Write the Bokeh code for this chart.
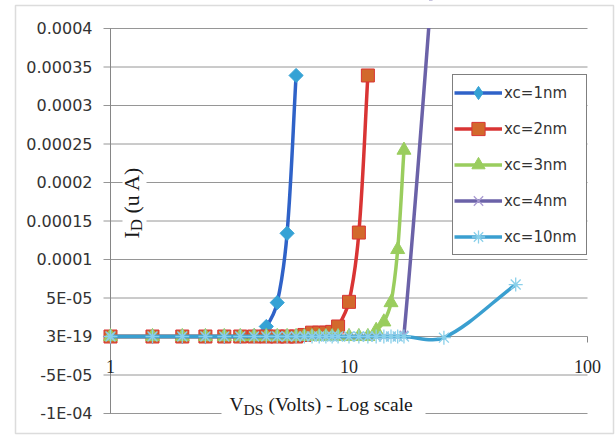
import math
from bokeh.plotting import figure
from bokeh.models import (Range1d, FixedTicker, CustomJSTickFormatter, Legend,
                          LegendItem, Label, BoxAnnotation, CDSView, IndexFilter,
                          ColumnDataSource)
from bokeh.embed import file_html
from bokeh.resources import INLINE

# ---------------- data ----------------
series_names = ["xc=1nm", "xc=2nm", "xc=3nm", "xc=4nm", "xc=10nm"]

vds_1nm = [1, 1.5, 2, 2.5, 3, 3.5, 4, 4.5, 5, 5.5, 6]
id_1nm = [0, 0, 0, 0, 0, 0, 1e-6, 1.3e-5, 4.4e-5, 1.34e-4, 3.39e-4]

vds_2nm = [1, 1.5, 2, 2.5, 3, 3.5, 4, 4.5, 5, 5.5, 6, 6.5, 7, 7.5, 8, 8.5,
           9, 10, 11, 12]
id_2nm = [0, 0, 0, 0, 0, 0, 0, 0, 0, 0, 0, 2e-6, 5e-6, 5e-6, 5e-6, 6e-6,
          1.3e-5, 4.5e-5, 1.35e-4, 3.39e-4]

vds_3nm = [1, 1.5, 2, 2.5, 3, 3.5, 4, 4.5, 5, 5.5, 6, 6.5, 7, 7.5, 8, 8.5,
           9, 10, 11, 12, 13, 14, 15, 16, 17]
id_3nm = [0, 0, 0, 0, 0, 0, 0, 0, 0, 0, 0, 0, 0, 0, 0, 0,
          0, 0, 0, 0, 8e-6, 1.9e-5, 4.4e-5, 1.13e-4, 2.42e-4]

vds_4nm = [1, 1.5, 2, 2.5, 3, 3.5, 4, 4.5, 5, 5.5, 6, 6.5, 7, 7.5, 8, 8.5,
           9, 10, 11, 12, 13, 14, 15, 16, 17, 25]
id_4nm = [0, 0, 0, 0, 0, 0, 0, 0, 0, 0, 0, 0, 0, 0, 0, 0,
          0, 0, 0, 0, 0, 0, 0, 0, 2e-6, 6.6e-4]

vds_10nm = [1, 1.5, 2, 2.5, 3, 3.5, 4, 4.5, 5, 5.5, 6, 6.5, 7, 7.5, 8, 8.5,
            9, 10, 11, 12, 13, 14, 15, 16, 17, 25, 50]
id_10nm = [0, 0, 0, 0, 0, 0, 0, 0, 0, 0, 0, 0, 0, 0, 0, 0,
           0, 0, 0, 0, 0, 0, 0, 0, 0, -1.5e-6, 6.75e-5]

y_ticks = [-1e-4, -5e-5, 0.0, 5e-5, 1e-4, 1.5e-4, 2e-4, 2.5e-4, 3e-4, 3.5e-4, 4e-4]
y_tick_labels = ["-1E-04", "-5E-05", "3E-19", "5E-05", "0.0001", "0.00015",
                 "0.0002", "0.00025", "0.0003", "0.00035", "0.0004"]
x_ticks = [1, 10, 100]
x_tick_labels = ["1", "10", "100"]

# ---------------- geometry (canvas pixels) ----------------
W, H = 616, 438
X1_PX, X100_PX = 110, 587          # where V=1 and V=100 sit
GRID_L = 103                       # grid lines start a little left of the axis (tick marks)
Y_TOP_PX, Y_BOT_PX = 28, 413       # where 4e-4 and -1e-4 sit
DEC_PX = (X100_PX - X1_PX) / 2.0
PX_PER_A = (Y_BOT_PX - Y_TOP_PX) / (4e-4 - (-1e-4))


def data_x(px):
    return 10 ** ((px - X1_PX) / DEC_PX)


def data_y(py):
    return 4e-4 - (py - Y_TOP_PX) / PX_PER_A


# the frame covers the whole canvas, so nothing gets clipped
p = figure(width=W, height=H, x_axis_type="log",
           x_range=Range1d(data_x(0), data_x(W)),
           y_range=Range1d(data_y(H), data_y(0)),
           output_backend="svg", toolbar_location=None,
           min_border_left=0, min_border_right=0,
           min_border_top=0, min_border_bottom=0)
p.title.visible = False
p.outline_line_color = None
p.background_fill_color = "white"
p.border_fill_color = "white"

fmt_code = """
let best = 0;
for (let k = 1; k < tv.length; k++) {
  if (Math.abs(tv[k] - tick) < Math.abs(tv[best] - tick)) best = k;
}
return tl[best];
"""

# y axis labels
yax = p.yaxis[0]
yax.fixed_location = data_x(GRID_L)
yax.ticker = FixedTicker(ticks=y_ticks)
yax.formatter = CustomJSTickFormatter(args=dict(tv=y_ticks, tl=y_tick_labels), code=fmt_code)
yax.axis_line_color = None
yax.major_tick_line_color = None
yax.minor_tick_line_color = None
yax.major_tick_out = 0
yax.major_tick_in = 0
yax.major_label_standoff = 11
yax.major_label_text_font = "DejaVu Sans"
yax.major_label_text_font_size = "16px"
yax.major_label_text_color = "#333333"

# x axis labels at I = 0
xax = p.xaxis[0]
xax.fixed_location = 0
xax.ticker = FixedTicker(ticks=x_ticks)
xax.formatter = CustomJSTickFormatter(args=dict(tv=x_ticks, tl=x_tick_labels), code=fmt_code)
xax.axis_line_color = None
xax.major_tick_line_color = None
xax.minor_tick_line_color = None
xax.major_tick_out = 5
xax.major_tick_in = 0
xax.major_label_standoff = 18
xax.major_label_text_font = "Liberation Serif"
xax.major_label_text_font_size = "18px"
xax.major_label_text_color = "#262626"
xax.level = "overlay"

p.xgrid.visible = False
p.ygrid.visible = False

# horizontal grid lines (one per y tick), from just left of the axis to V = 100
p.segment(x0=[data_x(GRID_L)] * len(y_ticks), x1=[x_ticks[-1]] * len(y_ticks),
          y0=y_ticks, y1=y_ticks, line_color="#969696", line_width=1, level="underlay")
# vertical axis line at V = 1
p.segment(x0=[x_ticks[0]], x1=[x_ticks[0]], y0=[y_ticks[0]], y1=[y_ticks[-1]],
          line_color="#868686", line_width=1, level="underlay")
# small tick below the horizontal axis at V = 100
p.segment(x0=[x_ticks[-1]], x1=[x_ticks[-1]], y0=[0.0], y1=[-6 / PX_PER_A],
          line_color="#868686", line_width=1, level="underlay")


def smooth_segments(xs, ys):
    """Excel-like smoothed line: cubic Bezier control points from neighbours."""
    px = [math.log10(v) * DEC_PX for v in xs]
    py = [v * PX_PER_A for v in ys]
    n = len(xs)
    seg = dict(x0=[], y0=[], x1=[], y1=[], cx0=[], cy0=[], cx1=[], cy1=[])
    for i in range(n - 1):
        i0 = max(i - 1, 0)
        i3 = min(i + 2, n - 1)
        d01 = math.hypot(px[i] - px[i0], py[i] - py[i0])
        d12 = math.hypot(px[i + 1] - px[i], py[i + 1] - py[i])
        d23 = math.hypot(px[i3] - px[i + 1], py[i3] - py[i + 1])
        if d12 == 0:
            continue
        t1x = (px[i + 1] - px[i0]) / (d01 + d12)
        t1y = (py[i + 1] - py[i0]) / (d01 + d12)
        t2x = (px[i3] - px[i]) / (d12 + d23)
        t2y = (py[i3] - py[i]) / (d12 + d23)
        c1x = px[i] + t1x * d12 / 3
        c1y = py[i] + t1y * d12 / 3
        c2x = px[i + 1] - t2x * d12 / 3
        c2y = py[i + 1] - t2y * d12 / 3
        seg["x0"].append(xs[i]); seg["y0"].append(ys[i])
        seg["x1"].append(xs[i + 1]); seg["y1"].append(ys[i + 1])
        seg["cx0"].append(10 ** (c1x / DEC_PX)); seg["cy0"].append(c1y / PX_PER_A)
        seg["cx1"].append(10 ** (c2x / DEC_PX)); seg["cy1"].append(c2y / PX_PER_A)
    return seg


styles = [
    dict(line="#2F62C8", marker="square", angle=math.pi / 4, size=10, leg_marker="diamond",
         fill="#35A2D5", mline="#35A2D5", mwidth=1),
    dict(line="#D93434", marker="square", angle=0, size=13, leg_marker="square",
         fill="#D2692C", mline="#D93434", mwidth=1),
    dict(line="#9ACD5E", marker="triangle", angle=0, size=14, leg_marker="triangle",
         fill="#9ACD5E", mline="#9ACD5E", mwidth=1),
    dict(line="#6B62A8", marker="x", angle=0, size=12, leg_marker="x",
         fill=None, mline="#A99BD1", mwidth=1.3),
    dict(line="#3A9FD0", marker="asterisk", angle=0, size=14, leg_marker="asterisk",
         fill=None, mline="#8AD0EA", mwidth=1.3),
]
data = [(vds_1nm, id_1nm), (vds_2nm, id_2nm), (vds_3nm, id_3nm),
        (vds_4nm, id_4nm), (vds_10nm, id_10nm)]

items = []
for name, (xs, ys), st in zip(series_names, data, styles):
    seg = smooth_segments(xs, ys)
    p.bezier(source=ColumnDataSource(seg), x0="x0", y0="y0", x1="x1", y1="y1",
             cx0="cx0", cy0="cy0", cx1="cx1", cy1="cy1",
             line_color=st["line"], line_width=3.5, line_cap="round")
    src = ColumnDataSource(dict(x=xs, y=ys))
    # legend-only renderers: a single-point view (a one-point line draws nothing,
    # the one marker sits under the real markers at V = 1)
    first = CDSView(filter=IndexFilter(indices=[0]))
    leg_line = p.line("x", "y", source=src, view=first,
                      line_color=st["line"], line_width=3.5)
    leg_mark = p.scatter("x", "y", source=src, view=first, marker=st["leg_marker"],
                         size=st["size"] * 0.7,
                         fill_color=st["fill"], line_color=st["mline"],
                         line_width=st["mwidth"])
    p.scatter("x", "y", source=src, marker=st["marker"], angle=st["angle"], size=st["size"],
              fill_color=st["fill"], line_color=st["mline"], line_width=st["mwidth"])
    items.append(LegendItem(label=name, renderers=[leg_line, leg_mark]))

# white mask above the 0.0004 line: the plot area ends there
p.add_layout(BoxAnnotation(left=GRID_L, right=612, top=0, bottom=Y_TOP_PX - 0.6,
                           left_units="canvas", right_units="canvas",
                           top_units="canvas", bottom_units="canvas",
                           fill_color="white", fill_alpha=1, line_color=None))

legend = Legend(items=items, location=(452, H - 255))
legend.border_line_color = "black"
legend.border_line_width = 1
legend.background_fill_color = "white"
legend.background_fill_alpha = 1
legend.label_text_font = "DejaVu Sans"
legend.label_text_font_size = "15px"
legend.label_text_color = "#333333"
legend.padding = 1
legend.spacing = 3
legend.glyph_width = 48
legend.glyph_height = 33
legend.label_standoff = 2
legend.label_width = 81
legend.margin = 0
p.add_layout(legend)

# axis titles (white boxes behind them break the grid lines like the original)
p.add_layout(BoxAnnotation(left=data_x(221), right=data_x(425),
                           bottom=data_y(420), top=data_y(397),
                           fill_color="white", fill_alpha=1, line_color=None))
p.add_layout(BoxAnnotation(left=data_x(122), right=data_x(146),
                           bottom=data_y(252), top=data_y(148),
                           fill_color="white", fill_alpha=1, line_color=None))

title_font = "Liberation Serif"
tc = "#1a1a1a"
p.add_layout(Label(x=data_x(229), y=data_y(404), text="V", text_font=title_font,
                   text_font_size="19.5px", text_color=tc, text_baseline="alphabetic"))
p.add_layout(Label(x=data_x(243), y=data_y(409), text="DS", text_font=title_font,
                   text_font_size="15.5px", text_color=tc, text_baseline="alphabetic"))
p.add_layout(Label(x=data_x(268), y=data_y(404), text="(Volts) - Log scale",
                   text_font=title_font, text_font_size="19.5px", text_color=tc,
                   text_baseline="alphabetic"))

p.add_layout(Label(x=data_x(131), y=data_y(238), text="I", angle=math.pi / 2,
                   text_font=title_font, text_font_size="22px", text_color=tc,
                   text_baseline="alphabetic"))
p.add_layout(Label(x=data_x(136), y=data_y(230.7), text="D", angle=math.pi / 2,
                   text_font=title_font, text_font_size="17px", text_color=tc,
                   text_baseline="alphabetic"))
p.add_layout(Label(x=data_x(131), y=data_y(213), text="(u A)", angle=math.pi / 2,
                   text_font=title_font, text_font_size="22px", text_color=tc,
                   text_baseline="alphabetic"))

# chart-area border
p.add_layout(BoxAnnotation(left=15, right=613, top=5, bottom=433,
                           left_units="canvas", right_units="canvas",
                           top_units="canvas", bottom_units="canvas",
                           fill_alpha=0, fill_color=None,
                           line_color="#8a8a8a", line_width=1.5))

open("out.html", "w").write(file_html(p, INLINE))
